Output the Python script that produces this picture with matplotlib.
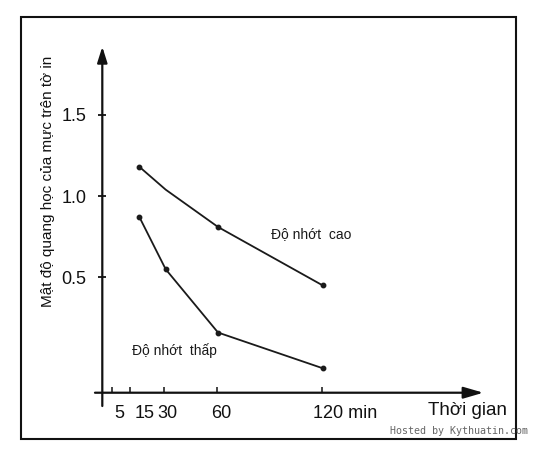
import matplotlib
matplotlib.use("Agg")
import matplotlib.pyplot as plt
from matplotlib.patches import Rectangle

plt.rcParams['font.family'] = ['Liberation Sans', 'DejaVu Sans']

# data (time in min, optical density)
time_min = [15, 30, 60, 120]
high_visc = [1.18, 1.04, 0.81, 0.45]
low_visc = [0.87, 0.55, 0.16, -0.06]
high_marked = [0, 2, 3]          # points that carry a dot
low_marked = [0, 1, 2, 3]

y_ticks = [0.5, 1.0, 1.5]
y_tick_labels = ['0.5', '1.0', '1.5']
x_tick_marks = [-0.6, 9.6, 29.2, 59.6, 119.8]
x_label_pos = [3.3, 18.2, 31.1, 62.1, 132.7]
x_tick_labels = ['5', '15', '30', '60', '120 min']

fig = plt.figure(figsize=(5.41, 4.59), dpi=100)
ax = fig.add_axes([0.1891, 0.1444, 0.7043, 0.7538])
ax.set_xlim(-6.3, 212.0)
ax.set_ylim(-0.2106, 1.92)

for s in ax.spines.values():
    s.set_visible(False)

# axis lines with arrow heads
ax.annotate('', xy=(1, 0), xytext=(-0.0192, 0), xycoords='axes fraction',
            arrowprops=dict(arrowstyle='-|>,head_length=1.2,head_width=0.35',
                            lw=1.6, color='#111111', shrinkA=0, shrinkB=0))
ax.annotate('', xy=(0, 1), xytext=(0, -0.0384), xycoords='axes fraction',
            arrowprops=dict(arrowstyle='-|>,head_length=0.95,head_width=0.3',
                            lw=1.6, color='#111111', shrinkA=0, shrinkB=0))

# curves
ax.plot(time_min, high_visc, color='#1a1a1a', lw=1.3,
        marker='o', ms=3.2, markevery=high_marked)
ax.plot(time_min, low_visc, color='#1a1a1a', lw=1.3,
        marker='o', ms=3.2, markevery=low_marked)

ax.text(90.2, 0.767, 'Độ nhớt  cao', fontsize=10, ha='left', va='center', color='#1a1a1a')
ax.text(10.5, 0.046, 'Độ nhớt  thấp', fontsize=10, ha='left', va='center', color='#1a1a1a')

# y ticks
ax.set_yticks(y_ticks, y_tick_labels)
ax.tick_params(axis='y', direction='inout', length=5.8, width=1.3,
               pad=8.5, labelsize=13, colors='#111111')

# x ticks: marks and labels are drawn at slightly different places
ax.set_xticks(x_label_pos, x_tick_labels)
ax.set_xticks(x_tick_marks, minor=True)
ax.tick_params(axis='x', which='major', length=0, pad=8.5, labelsize=13, colors='#111111')
ax.tick_params(axis='x', which='minor', direction='in', length=4.2, width=1.1, color='#111111')

ax.text(203.0, -0.345, 'Thời gian', fontsize=13.5, ha='center', va='baseline',
        color='#111111', clip_on=False)

fig.text(48.3 / 541, 1 - 181.5 / 459, 'Mật độ quang học của mực trên tờ in',
         rotation=90, ha='center', va='center', fontsize=11, color='#111111')

# frame around the whole figure
fig.patches.append(Rectangle((20.7 / 541, 1 - 439.3 / 459), 495 / 541, 422.6 / 459,
                             transform=fig.transFigure, fill=False,
                             lw=1.5, edgecolor='#111111'))

fig.text(390 / 541, 1 - 431 / 459, 'Hosted by Kythuatin.com', family='DejaVu Sans Mono',
         fontsize=7.2, color='#666666', ha='left', va='center')

fig.savefig('out.png', dpi=100)
